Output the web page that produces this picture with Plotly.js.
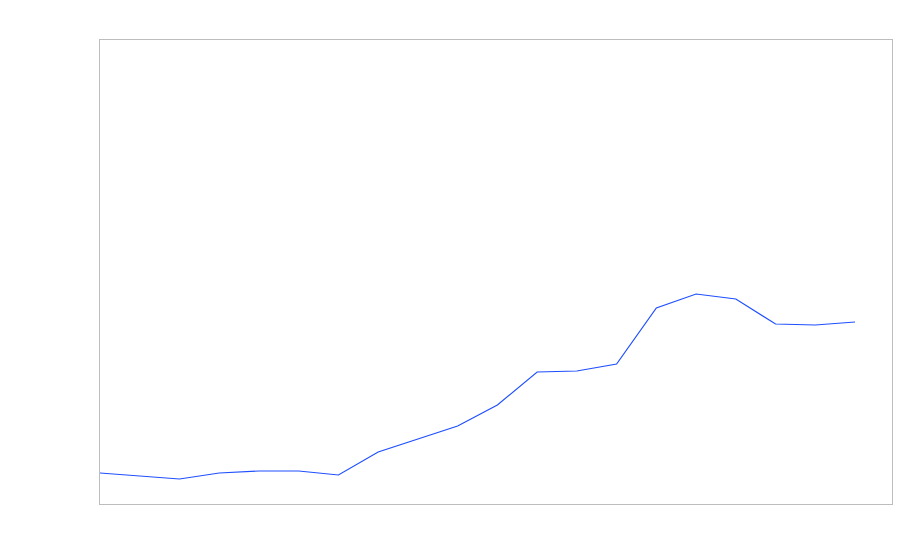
<!DOCTYPE html>
<html>
<head>
<meta charset="utf-8">
<script src="https://cdn.plot.ly/plotly-3.0.1.min.js"></script>
<style>html,body{margin:0;padding:0;background:#fff;}#chart{width:900px;height:560px;}</style>
</head>
<body>
<div id="chart"></div>
<script>
const xIndex = [0,1,2,3,4,5,6,7,8,9,10,11,12,13,14,15,16,17,18,19];
const values = [31,28,25,31,33,33,29,52,65,78,99,132,133,140,196,210,205,180,179,182];

const trace = {
  x: xIndex,
  y: values,
  type: 'scatter',
  mode: 'lines',
  line: {color: '#1f4fff', width: 1.2},
  hoverinfo: 'skip'
};

const axisCommon = {
  showgrid: false,
  zeroline: false,
  showticklabels: false,
  ticks: '',
  showline: true,
  mirror: true,
  linecolor: '#bdbdbd',
  linewidth: 1
};

const layout = {
  width: 900,
  height: 560,
  margin: {l: 100, r: 8, t: 40, b: 56},
  paper_bgcolor: '#ffffff',
  plot_bgcolor: '#ffffff',
  showlegend: false,
  xaxis: Object.assign({range: [0, 19.93]}, axisCommon),
  yaxis: Object.assign({range: [0, 464]}, axisCommon)
};

Plotly.newPlot('chart', [trace], layout, {displayModeBar: false, staticPlot: true});
</script>
</body>
</html>
